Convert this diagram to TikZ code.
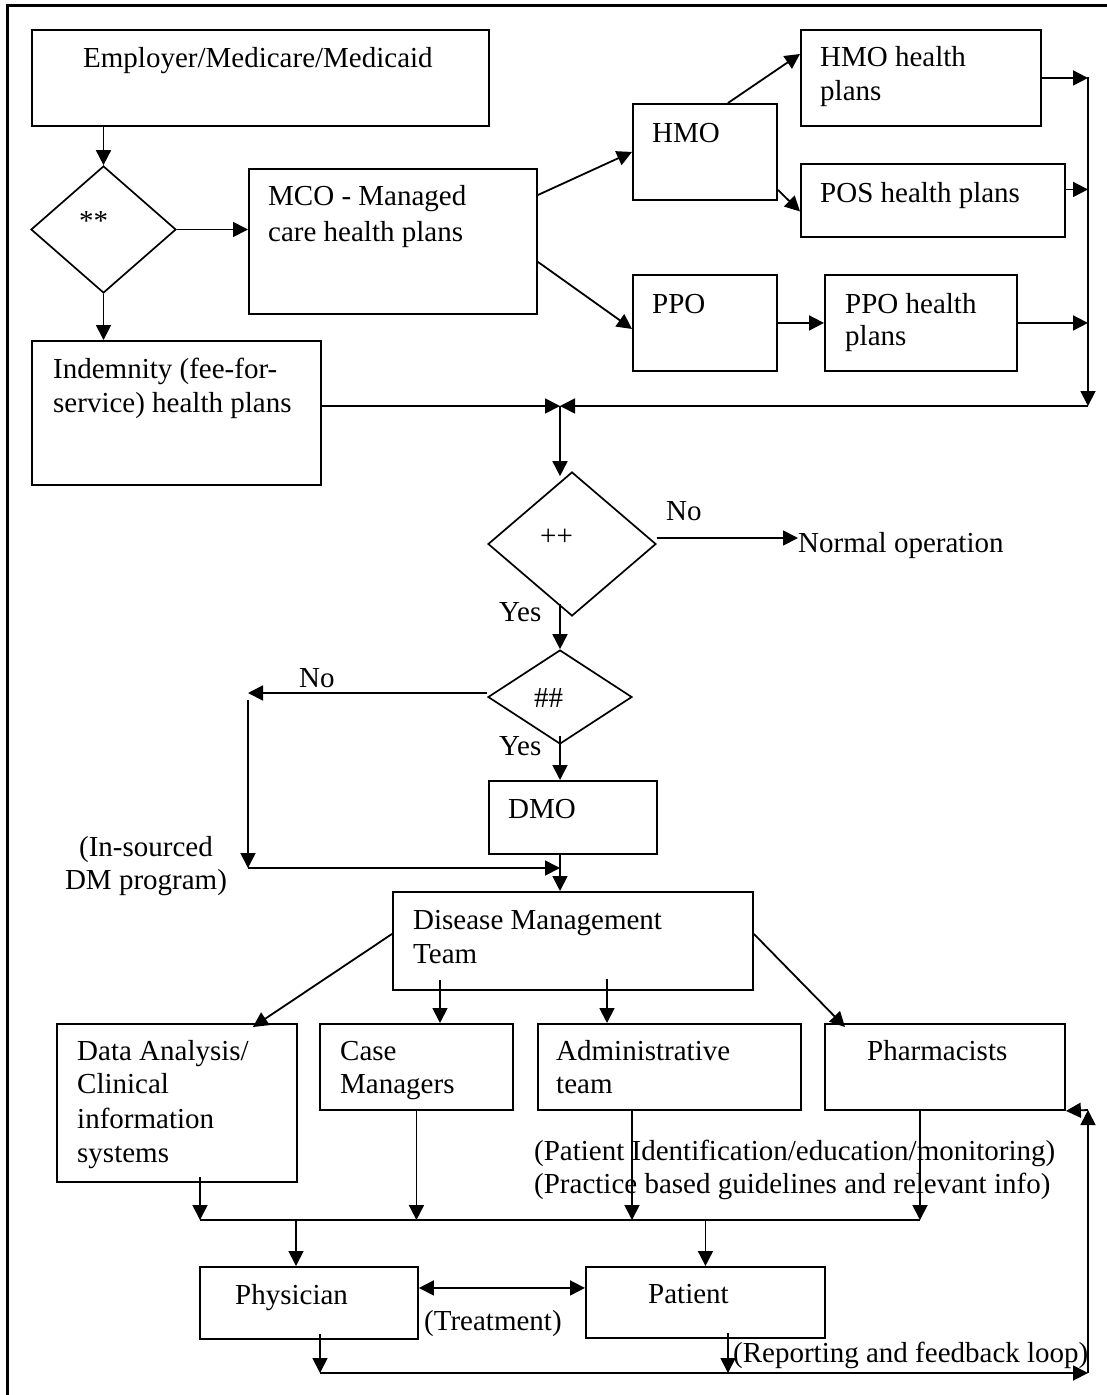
\documentclass[tikz,border=0pt]{standalone}
\usepackage{fontspec}
\setmainfont{Liberation Serif}
\usetikzlibrary{arrows.meta,shapes.geometric}
\newcommand\mybox[5]{\node[box,minimum width={(#4-#2)*1pt},minimum height={(#5-#3)*1pt}] (#1) at (#2,#3) {};}
\newcommand\tx[4]{\node[lbl] (#1) at (#2,#3) {#4};}
\begin{document}
\begin{tikzpicture}[x=1pt,y=-1pt,
 box/.style={draw, line width=1.9pt, inner sep=0pt, anchor=north west},
 dec/.style={draw, diamond, line width=1.7pt, inner sep=0pt},
 lbl/.style={inner sep=0pt, anchor=base west, font=\fontsize{29}{34}\selectfont},
 clbl/.style={inner sep=0pt, anchor=base, font=\fontsize{29}{34}\selectfont},
 arr/.style={line width=1.8pt, -{Triangle[length=15pt,width=15pt]}},
 darr/.style={line width=1.8pt, {Triangle[length=15pt,width=15pt]}-{Triangle[length=15pt,width=15pt]}},
 ln/.style={line width=1.8pt},
 border/.style={line width=3pt}]
\useasboundingbox (0,0) rectangle (1107,1395);
\clip (0,0) rectangle (1107,1395);
\draw[border] (7,1410) -- (7,5) -- (1120,5);

% boxes
\mybox{emp}{31}{29}{488}{125}
\mybox{mco}{248}{168}{536}{313}
\mybox{ind}{31}{340}{320}{484}
\mybox{hmo}{632}{103}{776}{199}
\mybox{hmohp}{800}{29}{1040}{125}
\mybox{pos}{800}{163}{1064}{236}
\mybox{ppo}{632}{274}{776}{370}
\mybox{ppohp}{824}{274}{1016}{370}
\mybox{dmo}{488}{780}{656}{853}
\mybox{dmt}{392}{891}{752}{989}
\mybox{data}{56}{1023}{296}{1181}
\mybox{case}{319}{1023}{512}{1109}
\mybox{admin}{537}{1023}{800}{1109}
\mybox{pharm}{824}{1023}{1064}{1109}
\mybox{phys}{199}{1266}{417}{1338}
\mybox{pat}{585}{1266}{824}{1337}

% diamonds
\node[dec, minimum width=145pt, minimum height=127pt] (d1) at (103.5,229.5) {};
\node[dec, minimum width=168pt, minimum height=144pt] (d2) at (572,544) {};
\node[dec, minimum width=144pt, minimum height=94pt] (d3) at (560,697) {};

% texts
\tx{t1}{83}{67}{Employer/Medicare/Medicaid}
\tx{t2}{79}{230}{**}
\tx{t3a}{268}{205}{MCO - Managed}
\tx{t3b}{268}{241}{care health plans}
\tx{t4a}{53}{378}{Indemnity (fee-for-}
\tx{t4b}{53}{412}{service) health plans}
\tx{t5}{652}{142}{HMO}
\tx{t6a}{820}{66}{HMO health}
\tx{t6b}{820}{100}{plans}
\tx{t7}{820}{202}{POS health plans}
\tx{t8}{652}{313}{PPO}
\tx{t9a}{845}{313}{PPO health}
\tx{t9b}{845}{345}{plans}
\tx{no1}{666}{520}{No}
\tx{pp}{540}{545}{++}
\tx{normal}{798}{552}{Normal operation}
\tx{yes1}{499}{621}{Yes}
\tx{hh}{534}{707}{\#\#}
\tx{no2}{299}{687}{No}
\tx{yes2}{499}{755}{Yes}
\tx{tdmo}{508}{818}{DMO}
\node[clbl] (ins1) at (146,856) {(In-sourced};
\node[clbl] (ins2) at (146,889) {DM program)};
\tx{tdmta}{413}{929}{Disease Management}
\tx{tdmtb}{413}{963}{Team}
\tx{tda}{77}{1060}{Data Analysis/}
\tx{tdb}{77}{1093}{Clinical}
\tx{tdc}{77}{1128}{information}
\tx{tdd}{77}{1162}{systems}
\tx{tca}{340}{1060}{Case}
\tx{tcb}{340}{1093}{Managers}
\tx{taa}{556}{1060}{Administrative}
\tx{tab}{556}{1093}{team}
\tx{tph}{867}{1060}{Pharmacists}
\tx{pi1}{534}{1160}{(Patient Identification/education/monitoring)}
\tx{pi2}{534}{1193}{(Practice based guidelines and relevant info)}
\tx{tphy}{235}{1304}{Physician}
\tx{tpat}{648}{1303}{Patient}
\tx{ttr}{424}{1330}{(Treatment)}
\tx{trep}{733}{1362}{(Reporting and feedback loop)}

% coordinates for free ends / junctions
\coordinate (busT) at (1088,77);
\coordinate (busB) at (1088,406);
\coordinate (junc) at (560,406);
\coordinate (noL) at (248,693);
\coordinate (insT) at (248,700);
\coordinate (insB) at (248,868);
\coordinate (busL) at (200,1220);
\coordinate (busR) at (920,1220);
\coordinate (bbL) at (320,1373);
\coordinate (bbR) at (1088,1373);
\coordinate (fbT) at (1088,1110);

% connectors
\draw[arr] (emp.south -| d1.north) -- (d1.north);
\draw[arr] (d1.east) -- (d1.east -| mco.west);
\draw[arr] (d1.south) -- (d1.south |- ind.north);
\draw[arr] ([yshift=-27pt]mco.north east) -- (hmo.west);
\draw[arr] ([yshift=53pt]mco.south east) -- ([yshift=-6pt]ppo.west);
\draw[arr] ([xshift=23pt]hmo.north) -- ([yshift=-25pt]hmohp.north west);
\draw[arr] ([yshift=11pt]hmo.south east) -- ([yshift=-11pt]pos.west);
\draw[arr] (ppo.east) -- (ppo.east -| ppohp.west);
\draw[arr] (hmohp.east) -- (hmohp.east -| busT);
\draw[arr] ([yshift=11pt]pos.east) -- ([yshift=11pt]pos.east -| busT);
\draw[arr] (ppohp.east) -- (ppohp.east -| busT);
\draw[arr] (busT) -- (busB);
\draw[arr] (busB) -- (junc);
\draw[arr] (ind.east |- junc) -- (junc);
\draw[arr] (junc) -- ([yshift=-5pt]junc |- d2.north);
\draw[arr] ([yshift=6pt]d2.east) -- ([yshift=6pt]d2.east -| normal.west);
\draw[arr] ([yshift=13pt]d2.south -| d3.north) -- (d3.north);
\draw[arr] ([yshift=4pt]d3.west) -- (noL);
\draw[arr] (insT) -- (insB);
\draw[arr] (insB) -- (insB -| d3.south);
\draw[arr] ([yshift=9pt]d3.south) -- (d3.south |- dmo.north);
\draw[arr] (d3.south |- dmo.south) -- (d3.south |- dmt.north);
\draw[arr] ([yshift=7pt]dmt.west) -- ([xshift=-45pt,yshift=-4pt]data.north east);
\draw[arr] ([xshift=48pt,yshift=11pt]dmt.south west) -- ([xshift=48pt]dmt.south west |- case.north);
\draw[arr] ([xshift=215pt,yshift=12pt]dmt.south west) -- ([xshift=215pt]dmt.south west |- admin.north);
\draw[arr] ([yshift=7pt]dmt.east) -- ([xshift=21pt,yshift=-4pt]pharm.north west);
\draw[ln] (busL) -- (busR);
\draw[arr] ([yshift=6pt]data.south west -| busL) -- (busL);
\draw[arr] (case.south) -- (case.south |- busL);
\draw[arr] ([xshift=95pt]admin.south west) -- ([xshift=95pt]admin.south west |- busL);
\draw[arr] (pharm.south west -| busR) -- (busR);
\draw[arr] ([xshift=97pt]phys.north west |- busL) -- ([xshift=97pt]phys.north west);
\draw[arr] (pat.north |- busL) -- (pat.north);
\draw[darr] ([yshift=15pt]phys.east) -- ([yshift=15pt]phys.east -| pat.west);
\draw[arr] ([yshift=6pt]phys.south west -| bbL) -- (bbL);
\draw[arr] ([xshift=143pt,yshift=6pt]pat.south west) -- ([xshift=143pt]pat.south west |- bbL);
\draw[arr] (bbL) -- (bbR);
\draw[arr] (bbR) -- (fbT);
\draw[arr] (fbT) -- (pharm.south east);
\end{tikzpicture}
\end{document}
